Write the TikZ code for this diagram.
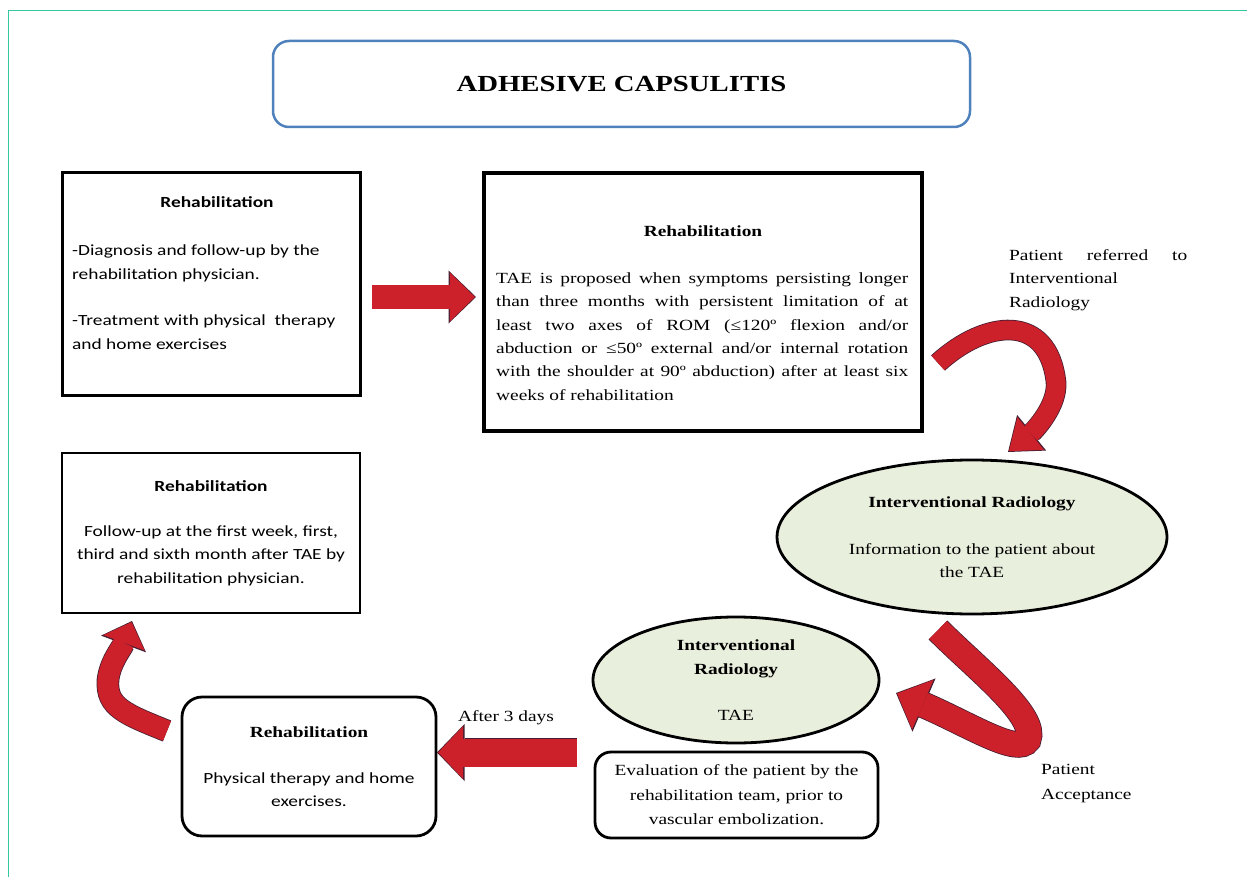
\documentclass[tikz,border=0pt]{standalone}
\usepackage{fontspec}
\setmainfont{Liberation Serif}[FakeStretch=1.25]
\newfontfamily\carl{Carlito}[FakeStretch=1.25]
\usetikzlibrary{shapes.geometric,arrows.meta}
\definecolor{frameteal}{RGB}{52,200,160}
\definecolor{titleblue}{RGB}{79,129,189}
\definecolor{arrred}{RGB}{204,32,42}
\definecolor{arrline}{RGB}{70,30,50}
\definecolor{ellfill}{RGB}{233,239,221}
\newcommand{\serfont}{\rmfamily\fontsize{15.5}{23.3}\selectfont}
\newcommand{\carfont}{\carl\fontsize{15.5}{23.3}\selectfont}
\tikzset{
  sqbox/.style={draw=black, line width=3pt, inner sep=0pt},
  rbox/.style={draw=black, line width=2.8pt, rounded corners=#1, inner sep=0pt, align=center},
  ell/.style={ellipse, draw=black, line width=2.8pt, fill=ellfill, inner sep=0pt, align=center},
  txt/.style={inner sep=0pt},
  ser/.style={font=\serfont},
  car/.style={font=\carfont},
  bandarrow/.style n args={6}{
    draw=arrred, line width=#1, shorten >=1.2pt,
    -{Triangle[length=#2,width=#3,line width=0pt]},
    preaction={draw=arrline, line width=#4, shorten >=0pt,
      -{Triangle[length=#5,width=#6,line width=0pt]}}
  }
}
\begin{document}
\begin{tikzpicture}[x=1pt,y=-1pt]
\useasboundingbox (0,0) rectangle (1247,877);
\draw[frameteal, line width=1pt] (8.5,877) -- (8.5,11) -- (1247,11);

% title
\node[draw=titleblue, line width=2.5pt, rounded corners=16pt, minimum width=697pt,
  minimum height=86pt, inner sep=0pt, font=\rmfamily\bfseries\fontsize{23}{28}\selectfont]
  (title) at (621.5,84) {ADHESIVE CAPSULITIS};

% box 1
\node[sqbox, minimum width=298pt, minimum height=222pt] (b1) at (211,284) {};
\node[txt, car, anchor=base] (b1h) at (217,208) {\bfseries Rehabilitation};
\node[txt, car, anchor=base west, align=left] (b1b) at (72,349)
  {-Diagnosis and follow-up by the\\rehabilitation physician.\\[23.3pt]-Treatment with physical~ therapy\\and home exercises};

% box 2
\node[sqbox, line width=3.5pt, minimum width=438pt, minimum height=258pt] (b2) at (703,302) {};
\node[txt, ser, anchor=base] (b2h) at (703,237) {\bfseries Rehabilitation};
\node[txt, ser, anchor=base west, align=left] (b2b) at (496,400)
  {\makebox[412pt][s]{TAE is proposed when symptoms persisting longer}\\
   \makebox[412pt][s]{than three months with persistent limitation of at}\\
   \makebox[412pt][s]{least two axes of ROM (≤120º flexion and/or}\\
   \makebox[412pt][s]{abduction or ≤50º external and/or internal rotation}\\
   \makebox[412pt][s]{with the shoulder at 90º abduction) after at least six}\\
   weeks of rehabilitation};

% referred label
\node[txt, ser, anchor=base west, align=left] (prt) at (1009,307)
  {\makebox[178pt][s]{Patient referred to}\\Interventional\\Radiology};

% box 3
\node[sqbox, line width=2.6pt, minimum width=298pt, minimum height=160pt, align=center, font=\carfont]
  (b3) at (211,533) {\textbf{Rehabilitation}\\[21.7pt]Follow-up at the first week, first,\\third and sixth month after TAE by\\rehabilitation physician.};

% ellipse 1
\node[ell, minimum width=390pt, minimum height=154pt, font=\serfont] (e1) at (972,537)
  {{\bfseries Interventional Radiology}\\[23.7pt]Information to the patient about\\the TAE};

% ellipse 2
\node[ell, minimum width=286pt, minimum height=126pt, font=\rmfamily\fontsize{15.5}{24.5}\selectfont] (e2) at (736,680)
  {{\bfseries Interventional}\\{\bfseries Radiology}\\[21.5pt]TAE};

% evaluation box
\node[rbox=16pt, minimum width=283pt, minimum height=86pt, font=\rmfamily\fontsize{15.5}{24.5}\selectfont]
  (ebox) at (736.5,795) {Evaluation of the patient by the\\rehabilitation team, prior to\\vascular embolization.};

% physical therapy box
\node[rbox=20pt, minimum width=254pt, minimum height=139pt, font=\serfont]
  (pbox) at (309,766.5) {{\bfseries Rehabilitation}\\[23pt]{\carl Physical therapy and home}\\{\carl exercises.}};

% labels
\node[txt, ser, anchor=base] (a3d) at (506,721) {After 3 days};
\node[txt, font=\rmfamily\fontsize{15.5}{25}\selectfont, anchor=base west, align=left] (pacc) at (1041,799) {Patient\\Acceptance};

% arrows
\coordinate (a1s) at (372,297);
\coordinate (a1e) at (476,297);
\draw[bandarrow={23pt}{25pt}{49pt}{24.6pt}{27.5pt}{53pt}] (a1s) -- (a1e);

\coordinate (c1s) at (938,363);
\coordinate (c1m) at (1056,382);
\coordinate (c1e) at (1008,452);
\draw[bandarrow={19pt}{28pt}{42pt}{20.6pt}{30.5pt}{46pt}]
  (c1s) .. controls (985,320) and (1048,312) .. (c1m) .. controls (1058,405) and (1035,430) .. (c1e);

\coordinate (d1s) at (938,630);
\coordinate (d1m) at (1028,740);
\coordinate (d1e) at (896,693);
\draw[bandarrow={25pt}{28pt}{54pt}{26.6pt}{30.5pt}{58pt}]
  (d1s) .. controls (978,670) and (1038,716) .. (d1m) .. controls (1018,756) and (970,725) .. (d1e);

\coordinate (b1s) at (577,752.5);
\coordinate (b1e) at (437,752.5);
\draw[bandarrow={28pt}{25pt}{53pt}{29.6pt}{27.5pt}{57pt}] (b1s) -- (b1e);

\coordinate (e1s) at (167,731);
\coordinate (e1e) at (132,621);
\draw[bandarrow={21pt}{22pt}{44pt}{22.6pt}{24.5pt}{48pt}]
  (e1s) .. controls (125,714) and (106,707) .. (108,680) .. controls (110,662) and (122,648) .. (e1e);
\end{tikzpicture}
\end{document}
